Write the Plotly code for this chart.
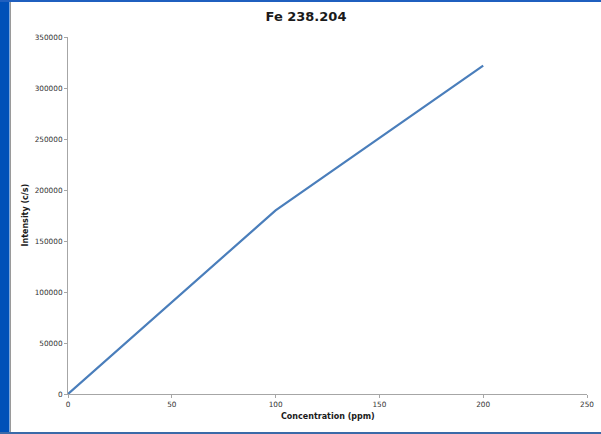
import plotly.graph_objects as go

conc = [0, 100, 200]
intensity = [0, 180000, 322000]
x_ticks = [0, 50, 100, 150, 200, 250]
y_ticks = [0, 50000, 100000, 150000, 200000, 250000, 300000, 350000]

W, H = 601, 434
L, R, T, B = 68, 14, 37, 40
pw = W - L - R
ph = H - T - B

def px(x):
    return (x - L) / pw

def py(y):
    return (H - B - y) / ph

fig = go.Figure()
fig.add_trace(go.Scatter(x=conc, y=intensity, mode="lines",
                         line=dict(color="#4a7ebb", width=2.2), showlegend=False))

axis_common = dict(showgrid=False, zeroline=False, showline=True, linecolor="#a6a6a6",
                   linewidth=1, ticks="outside", ticklen=3, tickcolor="#a6a6a6",
                   automargin=False,
                   tickfont=dict(family="DejaVu Sans", size=7.3, color="#333333"))

fig.update_layout(
    width=W, height=H, autosize=False,
    margin=dict(l=L, r=R, t=T, b=B, autoexpand=False),
    paper_bgcolor="white", plot_bgcolor="white",
    title=dict(text="<b>Fe 238.204</b>", x=306 / W, xanchor="center",
               y=1 - 16 / H, yanchor="middle",
               font=dict(family="DejaVu Sans", size=13, color="#1a1a1a")),
    xaxis=dict(range=[0, 250], tickvals=x_ticks, ticktext=[str(v) for v in x_ticks],
               **axis_common),
    yaxis=dict(range=[0, 350000], tickvals=y_ticks, ticktext=[str(v) for v in y_ticks],
               **axis_common),
    annotations=[
        dict(text="<b>Concentration (ppm)</b>", xref="paper", yref="paper",
             x=0.5, y=py(416), xanchor="center", yanchor="middle", showarrow=False,
             font=dict(family="DejaVu Sans", size=8, color="#1a1a1a")),
        dict(text="<b>Intensity (c/s)</b>", xref="paper", yref="paper",
             x=px(25), y=0.5, xanchor="center", yanchor="middle", showarrow=False,
             textangle=-90,
             font=dict(family="DejaVu Sans", size=8, color="#1a1a1a")),
    ],
    shapes=[
        dict(type="rect", xref="paper", yref="paper", x0=px(0), x1=px(9.5),
             y0=py(H), y1=py(0), fillcolor="#0050b8", line=dict(width=0), layer="above"),
        dict(type="line", xref="paper", yref="paper", x0=px(10.5), x1=px(10.5),
             y0=py(H), y1=py(0), line=dict(color="#9a9a9a", width=1)),
        dict(type="rect", xref="paper", yref="paper", x0=px(0), x1=px(W),
             y0=py(2), y1=py(0), fillcolor="#1f5fbf", line=dict(width=0)),
        dict(type="rect", xref="paper", yref="paper", x0=px(0), x1=px(W),
             y0=py(H), y1=py(H - 2), fillcolor="#3a6aa8", line=dict(width=0)),
    ],
)

fig.write_html("out.html", config=dict(displayModeBar=False),
               post_script="document.body.style.margin='0';document.body.style.overflow='hidden';")
